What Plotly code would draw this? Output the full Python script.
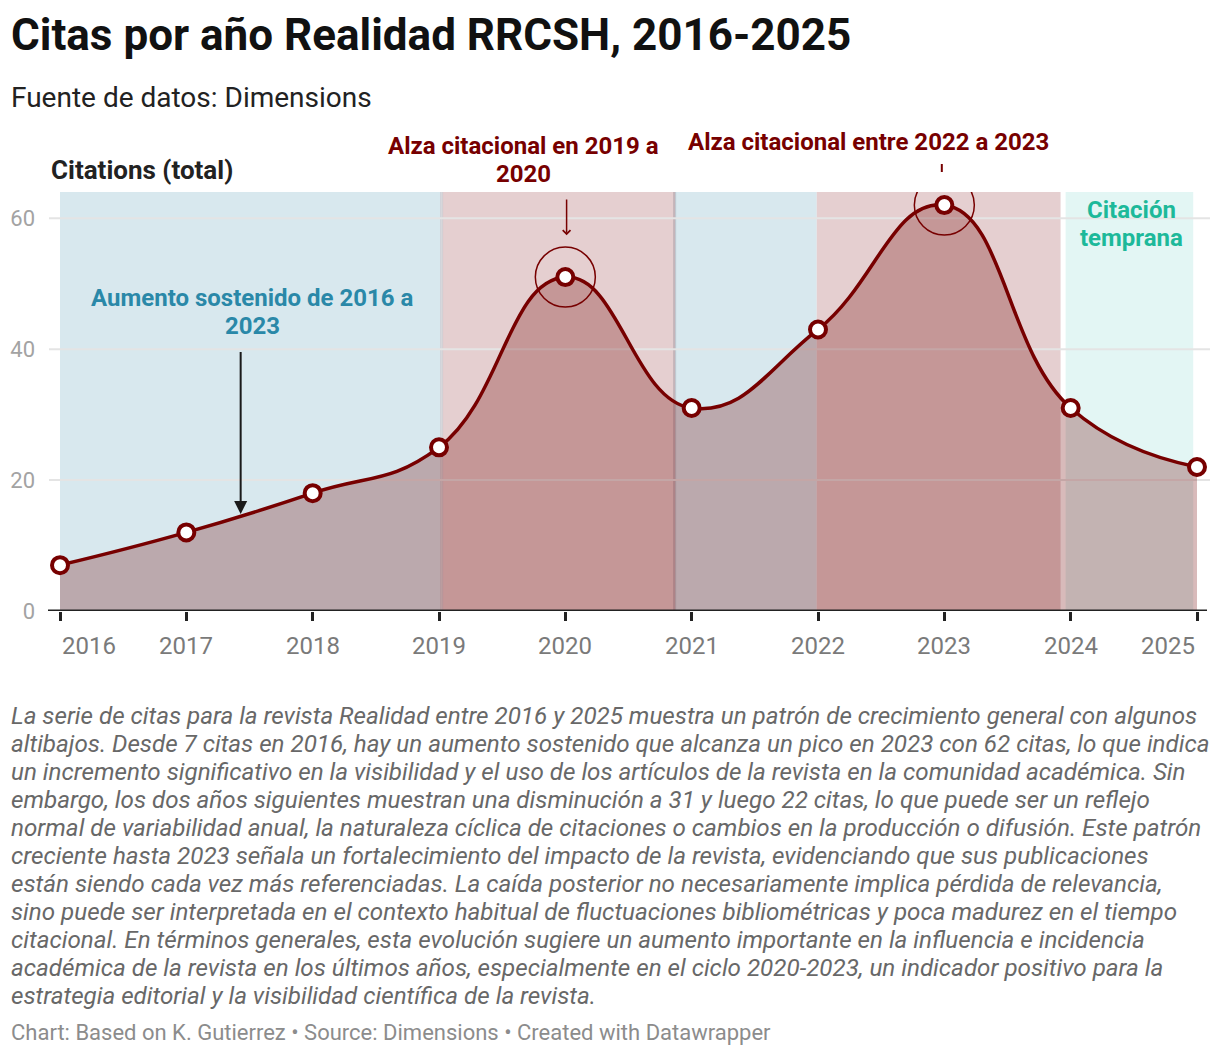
#!/usr/bin/env python3
"""Citas por año, revista Realidad (RRCSH) 2016-2025 — recreación en Plotly."""

import plotly.graph_objects as go

# --- datos -------------------------------------------------------------
years = [2016, 2017, 2018, 2019, 2020, 2021, 2022, 2023, 2024, 2025]
citations = [7, 12, 18, 25, 51, 31, 43, 62, 31, 22]
y_ticks = [0, 20, 40, 60]
highlight_years = [2020, 2023]

# bandas de fondo (inicio, fin, color)
bands = [
    (2016.0, 2019.01, "#d8e8ee"),
    (2019.03, 2020.87, "#e5cfd0"),
    (2020.87, 2021.99, "#d8e8ee"),
    (2021.99, 2023.92, "#e5cfd0"),
    (2023.96, 2024.97, "#e3f6f4"),
]
band_edges = [2019.02, 2020.865]

TITLE = "Citas por año Realidad RRCSH, 2016-2025"
SUBTITLE = "Fuente de datos: Dimensions"
Y_TITLE = "Citations (total)"
NOTE_LINES = [
    "La serie de citas para la revista Realidad entre 2016 y 2025 muestra un patrón de crecimiento general con algunos",
    "altibajos. Desde 7 citas en 2016, hay un aumento sostenido que alcanza un pico en 2023 con 62 citas, lo que indica",
    "un incremento significativo en la visibilidad y el uso de los artículos de la revista en la comunidad académica. Sin",
    "embargo, los dos años siguientes muestran una disminución a 31 y luego 22 citas, lo que puede ser un reflejo",
    "normal de variabilidad anual, la naturaleza cíclica de citaciones o cambios en la producción o difusión. Este patrón",
    "creciente hasta 2023 señala un fortalecimiento del impacto de la revista, evidenciando que sus publicaciones",
    "están siendo cada vez más referenciadas. La caída posterior no necesariamente implica pérdida de relevancia,",
    "sino puede ser interpretada en el contexto habitual de fluctuaciones bibliométricas y poca madurez en el tiempo",
    "citacional. En términos generales, esta evolución sugiere un aumento importante en la influencia e incidencia",
    "académica de la revista en los últimos años, especialmente en el ciclo 2020-2023, un indicador positivo para la",
    "estrategia editorial y la visibilidad científica de la revista.",
]
FOOTER = "Chart: Based on K. Gutierrez • Source: Dimensions • Created with Datawrapper"

# notas dentro del gráfico: (líneas, año central, color)
notes = [
    (["Aumento sostenido de 2016 a", "2023"], 2017.52, "#2a88a8"),
    (["Alza citacional en 2019 a", "2020"], 2019.665, "#770000"),
    (["Alza citacional entre 2022 a 2023"], 2022.40, "#770000"),
    (["Citación", "temprana"], 2024.48, "#1db99a"),
]
note_top_px = [298, 146, 142, 210]

MAROON = "#770000"
FONT = "Roboto"

# la página deja 8px de margen en el body
OFF = 8
W, H = 1204, 1040
L, T = 60 - OFF, 192 - OFF
R = W - (1197 - OFF)
B = H - (611 - OFF)
PW, PH = W - L - R, H - T - B


def px(x):
    return (x - OFF - L) / PW


def py(y):
    return (H - B - (y - OFF)) / PH


fig = go.Figure()

fig.add_trace(go.Scatter(
    x=years, y=citations, mode="lines+markers", line_shape="spline",
    line=dict(color=MAROON, width=3.5, smoothing=1.3),
    fill="tozeroy", fillcolor="rgba(111,0,0,0.27)",
    marker=dict(size=16, color="white", line=dict(color=MAROON, width=4)),
    cliponaxis=False, hoverinfo="x+y", showlegend=False,
))

shapes = []
for x0, x1, col in bands:
    shapes.append(dict(type="rect", xref="x", yref="paper", x0=x0, x1=x1, y0=0, y1=1,
                       fillcolor=col, line_width=0, layer="below"))
for xe in band_edges:
    shapes.append(dict(type="line", xref="x", yref="paper", x0=xe, x1=xe, y0=0, y1=1,
                       line=dict(color="rgba(110,110,125,0.28)", width=3), layer="below"))
for v in y_ticks[1:]:
    shapes.append(dict(type="line", xref="paper", yref="y", x0=px(49), x1=px(1210), y0=v, y1=v,
                       line=dict(color="#e4e4e4", width=2), layer="below"))
# eje x
shapes.append(dict(type="line", xref="paper", yref="y", x0=px(48), x1=px(1207), y0=0, y1=0,
                   line=dict(color="#222222", width=3)))
# círculos de realce
for yr in highlight_years:
    shapes.append(dict(type="circle", xref="x", yref="y", xsizemode="pixel", ysizemode="pixel",
                       xanchor=yr, yanchor=citations[years.index(yr)],
                       x0=-30, x1=30, y0=-30, y1=30, line=dict(color=MAROON, width=1.5)))
# marca corta sobre 2023
shapes.append(dict(type="line", xref="x", yref="paper", x0=2022.98, x1=2022.98,
                   y0=py(172), y1=py(164), line=dict(color=MAROON, width=2)))

ann = []


def text_at(text, x, y, size, color, xref="paper", xanchor="left"):
    ann.append(dict(text=text, x=x, y=y, xref=xref, yref="paper", xanchor=xanchor,
                    yanchor="middle", showarrow=False,
                    font=dict(size=size, color=color, family=FONT)))


text_at(f"<b>{TITLE}</b>", px(9), py(35), 44, "#111111")
text_at(SUBTITLE, px(9), py(97), 28, "#222222")
text_at(f"<b>{Y_TITLE}</b>", px(49), py(170), 26, "#222222")

# etiquetas del eje x
for i, yr in enumerate(years):
    anchor = "left" if i == 0 else ("right" if i == len(years) - 1 else "center")
    text_at(str(yr), yr, py(646), 24, "#7a7a7a", xref="x", xanchor=anchor)

# notas
for (lines, xc, col), top in zip(notes, note_top_px):
    for k, line in enumerate(lines):
        text_at(f"<b>{line}</b>", xc, py(top + 28 * k), 24, col, xref="x", xanchor="center")

ann.append(dict(text="", x=2017.43, y=14.8, ax=2017.43, ay=39.8, xref="x", yref="y",
                axref="x", ayref="y", showarrow=True, arrowhead=2, arrowsize=1.3,
                arrowwidth=2, arrowcolor="#1a1a1a"))
ann.append(dict(text="", x=2020.01, y=57.4, ax=2020.01, ay=63.1, xref="x", yref="y",
                axref="x", ayref="y", showarrow=True, arrowhead=4, arrowsize=1.0,
                arrowwidth=1.5, arrowcolor=MAROON))

# texto descriptivo y pie
for k, line in enumerate(NOTE_LINES):
    text_at(f"<i>{line}</i>", px(9), py(716 + 28 * k), 24.2, "#686868")
text_at(FOOTER, px(9), py(1032), 22, "#8c8c8c")

fig.update_layout(
    width=W, height=H, margin=dict(l=L, r=R, t=T, b=B, autoexpand=False),
    paper_bgcolor="white", plot_bgcolor="white",
    font=dict(family=FONT),
    xaxis=dict(range=[2016, 2025], tickvals=years, showticklabels=False, showgrid=False,
               zeroline=False, ticks="outside", ticklen=9, tickwidth=2.5, tickcolor="#222222"),
    yaxis=dict(range=[0, 64], tickvals=y_ticks, showgrid=False, zeroline=False,
               ticklabelstandoff=24, tickfont=dict(size=22, color="#a3a3a3", family=FONT)),
    shapes=shapes, annotations=ann, showlegend=False,
)

fig.write_html("out.html")
